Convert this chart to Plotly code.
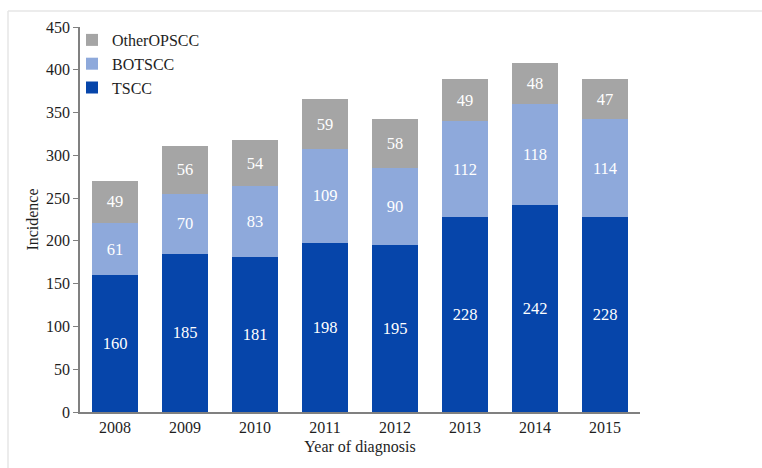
import plotly.graph_objects as go

years = ["2008", "2009", "2010", "2011", "2012", "2013", "2014", "2015"]
tscc = [160, 185, 181, 198, 195, 228, 242, 228]
botscc = [61, 70, 83, 109, 90, 112, 118, 114]
other_opscc = [49, 56, 54, 59, 58, 49, 48, 47]

series = [
    ("TSCC", tscc, "#0645AA"),
    ("BOTSCC", botscc, "#8EA9DB"),
    ("OtherOPSCC", other_opscc, "#A5A5A5"),
]

FONT = "Liberation Serif"
INK = "#1E1E1E"

fig = go.Figure()
for name, vals, color in series:
    fig.add_trace(go.Bar(
        x=years, y=vals, name=name,
        marker=dict(color=color, line=dict(width=0)),
        text=[str(v) for v in vals],
        textposition="inside",
        insidetextanchor="middle",
        textangle=0,
        constraintext="none",
        textfont=dict(family=FONT, size=16.5, color="white"),
    ))

L, R, T, B = 80, 122, 27, 56
W, H = 762, 468
pw, ph = W - L - R, H - T - B


def px_x(x):
    """Screen x (pixels) -> paper x."""
    return (x - L) / pw


def px_y(y):
    """Screen y (pixels, from top) -> paper y."""
    return (H - B - y) / ph


fig.update_layout(
    width=W, height=H,
    margin=dict(l=L, r=R, t=T, b=B),
    barmode="stack",
    bargap=0.33,
    plot_bgcolor="white",
    paper_bgcolor="white",
    font=dict(family=FONT, size=16, color=INK),
    legend=dict(
        x=px_x(72), y=px_y(23), xanchor="left", yanchor="top",
        traceorder="reversed",
        bgcolor="rgba(0,0,0,0)",
        font=dict(family=FONT, size=16, color=INK),
        itemwidth=30,
        tracegroupgap=0,
    ),
    xaxis=dict(
        showline=True, linecolor="#808080", linewidth=1.5,
        ticks="", showgrid=False,
        tickfont=dict(family=FONT, size=16, color=INK),
        title=dict(text="Year of diagnosis", standoff=6,
                   font=dict(family=FONT, size=16, color=INK)),
    ),
    yaxis=dict(
        range=[0, 450], dtick=50,
        showline=True, linecolor="#808080", linewidth=1.5,
        ticks="outside", ticklen=5, tickcolor="#808080",
        showgrid=False, zeroline=False,
        tickfont=dict(family=FONT, size=16, color=INK),
        title=dict(text="Incidence", standoff=3,
                   font=dict(family=FONT, size=16, color=INK)),
    ),
)

# faint frame along the top and left of the figure
fig.add_shape(type="line", xref="paper", yref="paper",
              x0=px_x(8), x1=px_x(W), y0=px_y(11), y1=px_y(11),
              line=dict(color="#E6E6E6", width=1.5))
fig.add_shape(type="line", xref="paper", yref="paper",
              x0=px_x(8), x1=px_x(8), y0=px_y(11), y1=px_y(H),
              line=dict(color="#E6E6E6", width=1.5))

fig.write_html("out.html")
